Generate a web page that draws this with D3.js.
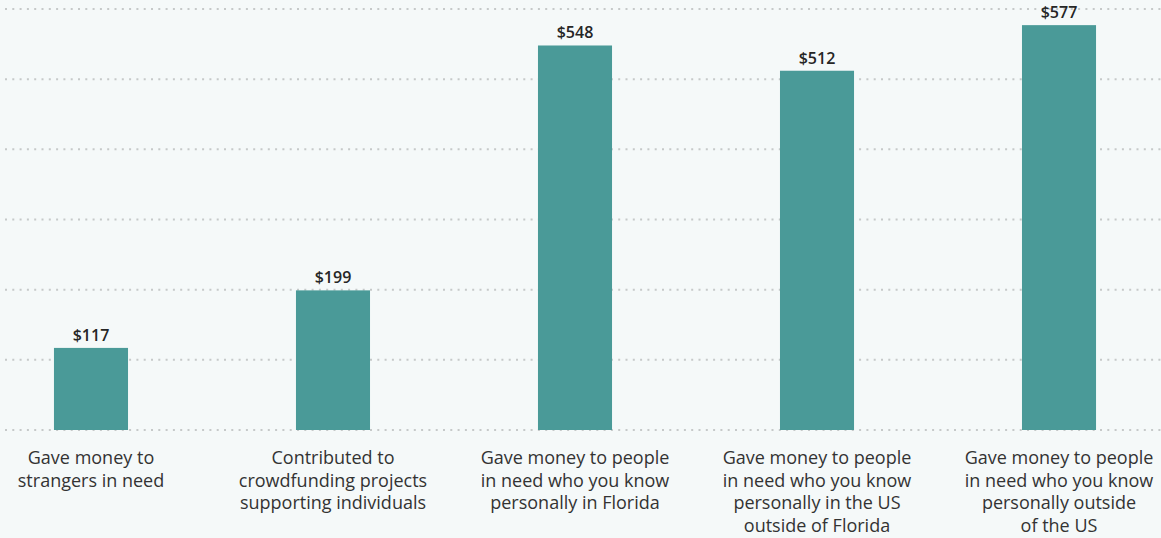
<!DOCTYPE html>
<html>
<head>
<meta charset="utf-8">
<script src="https://cdn.jsdelivr.net/npm/d3@7"></script>
<style>
  html, body { margin: 0; padding: 0; background: #f5f9f9; }
  #chart { width: 1161px; height: 538px; }
  text { font-family: "Open Sans", Roboto, "Liberation Sans", sans-serif; }
</style>
</head>
<body>
<div id="chart"></div>
<script>
// data
var categories = [
  ["Gave money to", "strangers in need"],
  ["Contributed to", "crowdfunding projects", "supporting individuals"],
  ["Gave money to people", "in need who you know", "personally in Florida"],
  ["Gave money to people", "in need who you know", "personally in the US", "outside of Florida"],
  ["Gave money to people", "in need who you know", "personally outside", "of the US"]
];
var values = [117, 199, 548, 512, 577];
var gridTicks = [0, 100, 200, 300, 400, 500, 600];

var width = 1161, height = 538;

var svg = d3.select('#chart').append('svg')
    .attr('width', width)
    .attr('height', height);

var x = d3.scaleBand()
    .domain(d3.range(values.length))
    .range([0, 1150])
    .paddingInner(0.694)
    .paddingOuter(0.223);

var y = d3.scaleLinear()
    .domain([0, 600])
    .range([430, 9]);

// dotted grid lines
svg.append('g')
  .selectAll('line')
  .data(gridTicks)
  .enter()
  .append('line')
    .attr('x1', 5)
    .attr('x2', width)
    .attr('y1', function(d) { return y(d); })
    .attr('y2', function(d) { return y(d); })
    .attr('stroke', '#c6c9c9')
    .attr('stroke-width', 2)
    .attr('stroke-dasharray', '2 5.3');

// bars
svg.append('g')
  .selectAll('rect')
  .data(values)
  .enter()
  .append('rect')
    .attr('x', function(d, i) { return x(i); })
    .attr('y', function(d) { return y(d); })
    .attr('width', x.bandwidth())
    .attr('height', function(d) { return y(0) - y(d); })
    .attr('fill', '#4a9a98');

// value labels
svg.append('g')
  .selectAll('text')
  .data(values)
  .enter()
  .append('text')
    .attr('x', function(d, i) { return x(i) + x.bandwidth() / 2; })
    .attr('y', function(d) { return y(d) - 7; })
    .attr('text-anchor', 'middle')
    .attr('font-size', '16px')
    .attr('font-weight', 600)
    .attr('fill', '#262626')
    .text(function(d) { return '$' + d; });

// category labels
var cat = svg.append('g')
  .selectAll('text')
  .data(categories)
  .enter()
  .append('text')
    .attr('x', function(d, i) { return x(i) + x.bandwidth() / 2; })
    .attr('y', 464)
    .attr('text-anchor', 'middle')
    .attr('font-size', '18px')
    .attr('fill', '#333333');

cat.selectAll('tspan')
  .data(function(d) { return d; })
  .enter()
  .append('tspan')
    .attr('x', function() { return d3.select(this.parentNode).attr('x'); })
    .attr('dy', function(d, i) { return i === 0 ? 0 : 22.5; })
    .text(function(d) { return d; });
</script>
</body>
</html>
